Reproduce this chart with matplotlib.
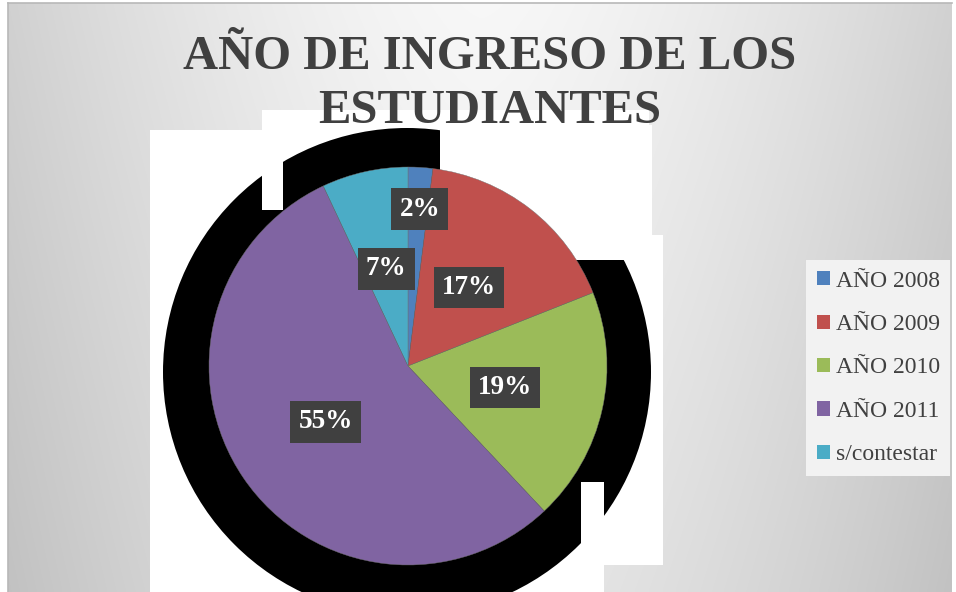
import numpy as np
import matplotlib
matplotlib.use("Agg")
import matplotlib.pyplot as plt
from matplotlib.patches import Rectangle, Circle, Patch

# chart data
categories = ["AÑO 2008", "AÑO 2009", "AÑO 2010", "AÑO 2011", "s/contestar"]
values = [2, 17, 19, 55, 7]
colors = ["#4F81BD", "#C0504D", "#9BBB59", "#8064A2", "#4BACC6"]
title = "AÑO DE INGRESO DE LOS\nESTUDIANTES"

W, H = 956, 592
SERIF = ["Liberation Serif", "DejaVu Serif"]


def iy(y):
    # image row -> data y
    return H - y


def white_rect(ax, x0, y0, x1, y1, z):
    ax.add_patch(Rectangle((x0, iy(y1)), x1 - x0, y1 - y0, fc="white", ec="none", zorder=z))


fig = plt.figure(figsize=(W / 100, H / 100), dpi=100)
fig.patch.set_facecolor("white")
ax = fig.add_axes([0, 0, 1, 1])

# grey panel gradient behind everything
gx, gy = np.meshgrid(np.linspace(0, W, 240), np.linspace(0, H, 150))
shade = 0.97 - 0.15 * (np.abs(gx - 480) / 480) ** 1.5 - 0.06 * (gy / H)
ax.imshow(np.dstack([shade] * 3), extent=(8, W - 4, iy(H), iy(3)), origin="upper",
          aspect="auto", zorder=0, interpolation="bilinear")
ax.plot([8, W - 4], [iy(3), iy(3)], color="#b8b8b8", lw=1.2, zorder=1)
ax.plot([8, 8], [iy(3), iy(H)], color="#b8b8b8", lw=1.2, zorder=1)

# white plot-area pieces
white_rect(ax, 150, 130, 603, H, 2)
white_rect(ax, 262, 110, 649, 236, 2)
white_rect(ax, 603, 235, 663, 565, 2)

# the black shadow blob around the pie
ax.add_patch(Circle((407, iy(372)), 244, fc="black", ec="none", zorder=3))
white_rect(ax, 440, 125, 652, 260, 4)
white_rect(ax, 262, 120, 283, 210, 4)
white_rect(ax, 581, 482, 604, H, 4)

wedges, texts, autotexts = ax.pie(
    values, colors=colors, startangle=90, counterclock=False,
    center=(408, iy(366)), radius=199, autopct="%1.0f%%", pctdistance=0.5,
    wedgeprops=dict(edgecolor="#6f6f6f", linewidth=0.3),
    textprops=dict(color="white", fontsize=19.5, fontweight="bold", family=SERIF),
)
for w in wedges:
    w.set_zorder(5)

# the small slice label sits further out
mid = np.deg2rad(90 - 360 * (values[0] / 2) / sum(values))
autotexts[0].set_position((410 + 0.79 * 199 * np.cos(mid), iy(366) + 0.79 * 199 * np.sin(mid)))
for t in autotexts:
    t.set_zorder(6)
    t.set_bbox(dict(boxstyle="square,pad=0.3", fc="#404040", ec="none"))

ax.set_xlim(0, W)
ax.set_ylim(0, H)
ax.set_aspect("auto")
ax.axis("off")

ax.text(490, iy(84), title, ha="center", va="center", fontsize=35, fontweight="bold",
        color="#404040", family=SERIF, linespacing=1.32, zorder=7)

handles = [Patch(fc=c, ec="none") for c in colors]
leg = fig.legend(handles, categories, loc="upper left", bbox_to_anchor=(806 / W, 1 - 260 / H),
                 prop=dict(family=SERIF, size=17), frameon=True, fancybox=False,
                 handlelength=0.55, handleheight=0.55, handletextpad=0.25,
                 labelspacing=0.95, borderpad=0.45, borderaxespad=0)
leg.get_frame().set_facecolor("#f2f2f2")
leg.get_frame().set_edgecolor("none")
leg.get_frame().set_alpha(1)
for t in leg.get_texts():
    t.set_color("#404040")

fig.savefig("out.png", dpi=100)
